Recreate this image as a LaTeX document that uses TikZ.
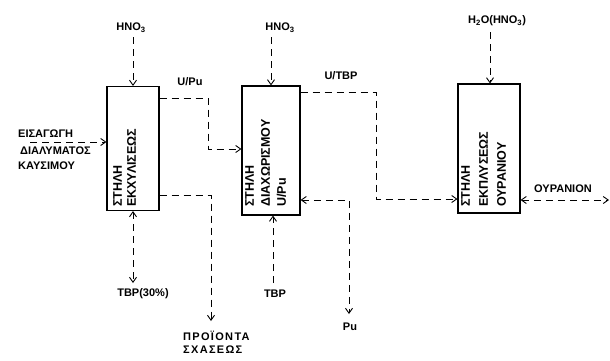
\documentclass[tikz,border=0pt]{standalone}
\usepackage{fontspec}
\setmainfont{Liberation Sans}
\usetikzlibrary{arrows.meta}
\begin{document}
\begin{tikzpicture}[x=1pt,y=-1pt,
  colbox/.style={draw,line width=1.1pt,inner sep=0pt},
  flow/.style={line width=0.9pt,dash pattern=on 7pt off 5pt},
  tip/.style={-{Straight Barb[length=5pt,width=7pt]}},
  tips/.style={{Straight Barb[length=5pt,width=7pt]}-{Straight Barb[length=5pt,width=7pt]}},
  lbl/.style={font=\fontsize{11}{13}\selectfont\bfseries,inner sep=0pt},
  coltxt/.style={rotate=90,anchor=north west,align=left,inner sep=0pt}]
\useasboundingbox (0,0) rectangle (610,360);
\fill[white] (0,0) rectangle (610,360);

% columns
\node[colbox,minimum width=52pt,minimum height=124pt] (b1) at (133,148.5) {};
\node[colbox,minimum width=58pt,minimum height=129pt] (b2) at (271,150.5) {};
\node[colbox,minimum width=62pt,minimum height=129pt] (b3) at (489,148.5) {};

\node[coltxt,font=\fontsize{12.5}{14}\selectfont\bfseries] (t1) at (113,207) {ΣΤΗΛΗ\\ΕΚΧΥΛΙΣΕΩΣ};
\node[coltxt,font=\fontsize{12.5}{16}\selectfont\bfseries] (t2) at (245,207) {ΣΤΗΛΗ\\ΔΙΑΧΩΡΙΣΜΟΥ\\U/Pu};
\node[coltxt,font=\fontsize{12.5}{18}\selectfont\bfseries] (t3) at (461,207) {ΣΤΗΛΗ\\ΕΚΠΛΥΣΕΩΣ\\ΟΥΡΑΝΙΟΥ};

% top feeds
\node[lbl] (h1) at (131,28) {HNO\textsubscript{3}};
\node[lbl] (h2) at (280,28) {HNO\textsubscript{3}};
\node[lbl] (h3) at (497,21) {H\textsubscript{2}O(HNO\textsubscript{3})};
\coordinate (q1) at (133,37);
\coordinate (q2) at (271,37);
\coordinate (q3) at (490,32);
\draw[flow,tip] (q1) -- (b1.north);
\draw[flow,tip] (q2) -- (b2.north);
\draw[flow,tip] (q3) -- (b3.north -| q3);

% feed solution
\node[lbl,anchor=west] (f1) at (18,134) {ΕΙΣΑΓΩΓΗ};
\node[lbl,anchor=west] (f2) at (20,151) {ΔΙΑΛΥΜΑΤΟΣ};
\node[lbl,anchor=west] (f3) at (18,166) {ΚΑΥΣΙΜΟΥ};
\coordinate (p12) at (30,142);
\draw[flow,tip] (p12) -- (b1.west |- p12);

% U/Pu to partition column
\node[lbl] (lup) at (190,82) {U/Pu};
\coordinate (p1) at (208,98);
\coordinate (p2) at (208,149);
\draw[flow,tip] (b1.east |- p1) -- (p1) -- (p2) -- (b2.west |- p2);

% fission products
\node[lbl,align=left,anchor=north west] (prod) at (183,331) {\addfontfeature{LetterSpace=12}ΠΡΟΪΟΝΤΑ\\\addfontfeature{LetterSpace=12}ΣΧΑΣΕΩΣ};
\coordinate (p3) at (211,195);
\coordinate (p4) at (211,321);
\draw[flow,tip] (b1.east |- p3) -- (p3) -- (p4);

% TBP feeds
\node[lbl] (tbp1) at (143,294) {TBP(30\%)};
\coordinate (p5) at (133,283);
\draw[flow,tips] (b1.south) -- (p5);
\node[lbl] (tbp2) at (275,294) {TBP};
\coordinate (p6) at (273,283);
\draw[flow,tip] (p6) -- (b2.south -| p6);

% Pu
\node[lbl] (pu) at (350,327) {Pu};
\coordinate (p7) at (349,200);
\coordinate (p8) at (349,314);
\draw[flow,tips] (b2.east |- p7) -- (p7) -- (p8);

% U/TBP
\node[lbl] (utbp) at (341,76) {U/TBP};
\coordinate (p9) at (376,92);
\coordinate (p10) at (376,199);
\draw[flow,tip] (b2.east |- p9) -- (p9) -- (p10) -- (b3.west |- p10);

% uranium product
\node[lbl] (uran) at (563,189) {ΟΥΡΑΝΙΟΝ};
\coordinate (p11) at (609,200);
\draw[flow,tips] (b3.east |- p11) -- (p11);
\end{tikzpicture}
\end{document}
